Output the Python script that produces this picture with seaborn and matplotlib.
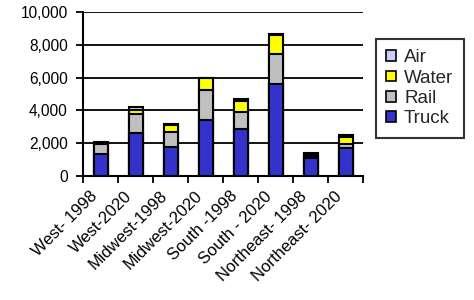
import matplotlib
matplotlib.use("Agg")
import matplotlib.pyplot as plt
import matplotlib.transforms as mtransforms
import seaborn as sns
import pandas as pd
import numpy as np
from matplotlib.patches import Patch
from matplotlib.ticker import FuncFormatter, FixedLocator

categories = ["West- 1998", "West-2020", "Midwest-1998", "Midwest-2020",
              "South -1998", "South - 2020", "Northeast- 1998", "Northeast- 2020"]
truck = [1350, 2620, 1790, 3410, 2850, 5600, 1080, 1690]
rail = [600, 1160, 910, 1830, 1050, 1840, 140, 270]
water = [50, 270, 390, 710, 680, 1130, 50, 400]
air = [100, 140, 110, 50, 100, 110, 110, 140]

sns.set_theme(style="white")
plt.rcParams['font.family'] = ['Liberation Sans', 'DejaVu Sans']

df = pd.DataFrame({"cat": categories, "Truck": truck, "Rail": rail,
                   "Water": water, "Air": air})
df["c_truck"] = df["Truck"]
df["c_rail"] = df["c_truck"] + df["Rail"]
df["c_water"] = df["c_rail"] + df["Water"]
df["c_air"] = df["c_water"] + df["Air"]

colors = {"Air": "#CCCCFF", "Water": "#FFFF00", "Rail": "#C0C0C0", "Truck": "#3333CC"}

fig = plt.figure(figsize=(4.74, 3.0), dpi=100)
ax = fig.add_axes([83/474, 1-176/300, 280/474, 164/300])

for col, name in [("c_air", "Air"), ("c_water", "Water"), ("c_rail", "Rail"), ("c_truck", "Truck")]:
    sns.barplot(data=df, x="cat", y=col, color=colors[name], width=0.4,
                edgecolor="black", linewidth=1.5, saturation=1, ax=ax, zorder=3)

ax.set_ylim(0, 10000)
ax.set_xlim(-0.5, len(categories) - 0.5)
ax.set_yticks(np.arange(0, 10001, 2000))
ax.yaxis.set_major_formatter(FuncFormatter(lambda v, p: f"{int(v):,}"))
ax.grid(axis="y", color="black", linewidth=1.3, zorder=0)
ax.set_axisbelow(True)
ax.set_xlabel("")
ax.set_ylabel("")

for s in ["top", "right"]:
    ax.spines[s].set_visible(False)
for s in ["left", "bottom"]:
    ax.spines[s].set_color("black")
    ax.spines[s].set_linewidth(1.5)

ax.tick_params(axis="y", which="major", left=True, length=5, width=1.3, color="black",
               labelsize=11.2, pad=6, labelcolor="black")
ax.set_xticks(range(len(categories)))
ax.set_xticklabels(categories, rotation=45, ha="right", rotation_mode="anchor",
                   fontsize=12, color="black")
ax.tick_params(axis="x", which="major", bottom=False, length=0, pad=9)
ax.xaxis.set_minor_locator(FixedLocator(np.arange(-0.5, len(categories), 1.0)))
ax.tick_params(axis="x", which="minor", bottom=True, length=5, width=1.3, color="black")

offset = mtransforms.ScaledTranslation(-11/100, 0, fig.dpi_scale_trans)
for lab in ax.get_xticklabels():
    lab.set_transform(lab.get_transform() + offset)

handles = [Patch(facecolor=colors[n], edgecolor="black", linewidth=1.2, label=n)
           for n in ["Air", "Water", "Rail", "Truck"]]
leg = fig.legend(handles=handles, loc="upper left", bbox_to_anchor=(376/474, 1-39/300),
                 frameon=True, fancybox=False, edgecolor="black", fontsize=13.5,
                 handlelength=0.5, handleheight=0.5, handletextpad=0.45,
                 labelspacing=0.18, borderpad=0.55, borderaxespad=0)
leg.get_frame().set_linewidth(1.5)

fig.savefig("out.png", dpi=100, facecolor="white")
